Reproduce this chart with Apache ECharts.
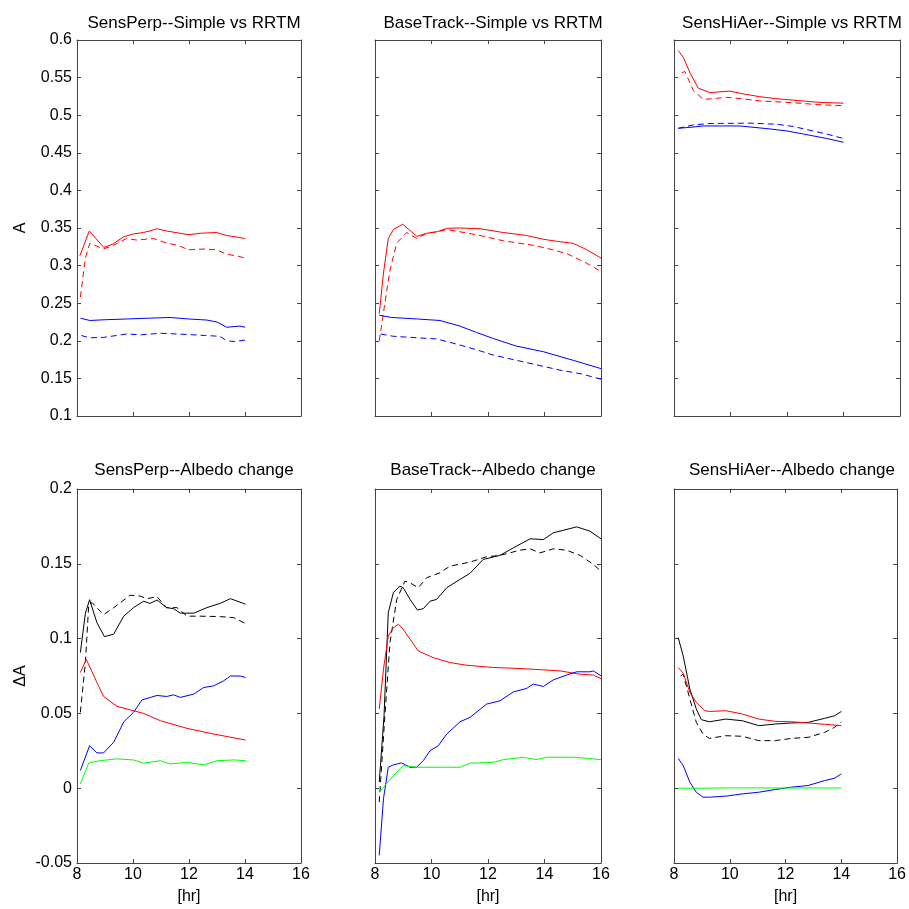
<!DOCTYPE html>
<html><head><meta charset="utf-8">
<script src="https://cdn.jsdelivr.net/npm/echarts/dist/echarts.min.js"></script>
<style>html,body{margin:0;padding:0;background:#fff}#c{width:909px;height:909px}</style>
</head><body><div id="c"></div><script>
// ---------- data ----------
const titles = ['SensPerp--Simple vs RRTM','BaseTrack--Simple vs RRTM','SensHiAer--Simple vs RRTM',
                'SensPerp--Albedo change','BaseTrack--Albedo change','SensHiAer--Albedo change'];
const xTicks = [8, 10, 12, 14, 16];
const yTicksTop = [0.1, 0.15, 0.2, 0.25, 0.3, 0.35, 0.4, 0.45, 0.5, 0.55, 0.6];
const yTicksBottom = [-0.05, 0, 0.05, 0.1, 0.15, 0.2];

// Top row: albedo A (solid = one model, dashed = other)
const perpRedSolid = [[8.1,0.313],[8.44,0.346],[8.96,0.324],[9.3,0.329],[9.65,0.338],[10.0,0.342],[10.37,0.344],[10.6,0.346],[10.85,0.349],[11.2,0.346],[11.68,0.343],[12.0,0.341],[12.4,0.343],[12.99,0.344],[13.35,0.340],[13.7,0.338],[14.0,0.336]];
const perpRedDash = [[8.12,0.258],[8.3,0.31],[8.46,0.330],[8.94,0.322],[9.3,0.327],[9.77,0.336],[10.13,0.334],[10.73,0.336],[11.2,0.330],[11.6,0.327],[11.98,0.321],[12.5,0.322],[12.99,0.321],[13.35,0.315],[13.7,0.313],[14.0,0.310]];
const perpBlueSolid = [[8.13,0.230],[8.46,0.227],[9.0,0.228],[9.77,0.229],[10.5,0.230],[11.32,0.231],[12.0,0.229],[12.63,0.2276],[13.0,0.225],[13.35,0.218],[13.82,0.2196],[14.0,0.218]];
const perpBlueDash = [[8.15,0.207],[8.46,0.204],[8.94,0.2045],[9.4,0.207],[9.77,0.209],[10.3,0.208],[10.96,0.210],[11.6,0.209],[12.15,0.208],[12.6,0.207],[13.1,0.206],[13.35,0.200],[13.64,0.199],[14.0,0.201]];

const baseRedSolid = [[8.15,0.236],[8.3,0.29],[8.47,0.336],[8.65,0.348],[8.98,0.355],[9.48,0.339],[9.83,0.343],[10.2,0.345],[10.54,0.3496],[11.0,0.350],[11.72,0.349],[12.54,0.344],[13.37,0.340],[13.96,0.335],[14.5,0.332],[15.02,0.3296],[15.5,0.321],[16.0,0.310]];
const baseRedDash = [[8.15,0.200],[8.35,0.250],[8.53,0.294],[8.77,0.330],[9.12,0.344],[9.48,0.336],[9.83,0.343],[10.2,0.345],[10.54,0.348],[11.0,0.345],[11.6,0.341],[12.54,0.333],[13.6,0.327],[14.08,0.323],[14.79,0.316],[15.5,0.303],[16.0,0.292]];
const baseBlueSolid = [[8.15,0.234],[8.59,0.231],[9.5,0.229],[10.3,0.227],[11.0,0.2196],[11.6,0.211],[12.19,0.203],[13.0,0.193],[13.96,0.1855],[15.02,0.174],[16.0,0.163]];
const baseBlueDash = [[8.2,0.209],[8.65,0.206],[9.5,0.204],[10.18,0.2025],[11.0,0.1945],[11.6,0.188],[12.19,0.181],[13.37,0.171],[14.55,0.161],[15.3,0.156],[16.0,0.149]];

const hiRedSolid = [[8.15,0.586],[8.33,0.577],[8.57,0.556],[8.86,0.536],[9.27,0.530],[9.6,0.531],[9.98,0.532],[10.5,0.528],[11.04,0.5246],[11.6,0.522],[12.22,0.520],[13.17,0.517],[14.0,0.516]];
const hiRedDash = [[8.27,0.5565],[8.39,0.558],[8.68,0.533],[9.04,0.521],[9.4,0.522],[9.86,0.5238],[10.4,0.522],[11.04,0.519],[12.22,0.5166],[13.1,0.514],[14.0,0.5126]];
const hiBlueSolid = [[8.15,0.4826],[8.6,0.484],[9.04,0.4857],[10.34,0.4857],[11.4,0.4817],[12.0,0.479],[12.58,0.475],[13.41,0.469],[14.0,0.464]];
const hiBlueDash = [[8.15,0.4826],[8.68,0.487],[9.27,0.489],[10.69,0.4894],[11.63,0.488],[12.22,0.485],[12.81,0.480],[13.4,0.475],[14.0,0.469]];

// Bottom row: albedo change dA
const perpBlackSolid = [[8.12,0.0907],[8.3,0.117],[8.45,0.126],[8.71,0.1107],[8.98,0.1013],[9.31,0.103],[9.67,0.115],[10.02,0.1207],[10.38,0.125],[10.6,0.1235],[10.86,0.1258],[11.2,0.1207],[11.45,0.120],[11.69,0.117],[12.17,0.117],[12.64,0.1207],[13.12,0.1236],[13.48,0.1267],[14.02,0.123]];
const perpBlackDash = [[8.12,0.0507],[8.18,0.0507],[8.3,0.084],[8.42,0.123],[8.54,0.124],[8.95,0.116],[9.31,0.1207],[9.9,0.129],[10.26,0.1284],[10.5,0.1267],[10.86,0.128],[11.2,0.1207],[11.57,0.1207],[11.93,0.115],[12.4,0.115],[13.12,0.1147],[13.6,0.114],[14.02,0.110]];
const perpRed = [[8.12,0.0773],[8.33,0.0862],[8.71,0.0707],[8.95,0.0613],[9.43,0.0547],[10.02,0.0518],[10.38,0.050],[10.98,0.0451],[11.93,0.040],[12.88,0.0362],[14.02,0.0322]];
const perpBlue = [[8.12,0.0118],[8.45,0.0284],[8.71,0.0236],[8.95,0.0236],[9.31,0.0307],[9.67,0.0444],[10.02,0.0507],[10.32,0.059],[10.62,0.0607],[10.86,0.062],[11.2,0.0613],[11.45,0.0624],[11.69,0.0607],[12.17,0.0629],[12.52,0.0673],[12.88,0.0684],[13.24,0.0718],[13.48,0.075],[13.83,0.075],[14.02,0.074]];
const perpGreen = [[8.12,0.0029],[8.42,0.0169],[8.83,0.0184],[9.43,0.0196],[10.02,0.0189],[10.38,0.0167],[10.98,0.0184],[11.33,0.0162],[11.93,0.0173],[12.52,0.0156],[13.0,0.0184],[13.6,0.0189],[14.02,0.0184]];

const baseBlackSolid = [[8.15,0.004],[8.32,0.0484],[8.47,0.1173],[8.65,0.1307],[8.88,0.1351],[9.0,0.134],[9.24,0.1262],[9.5,0.1191],[9.71,0.120],[9.95,0.125],[10.18,0.1262],[10.54,0.134],[11.01,0.1396],[11.36,0.1436],[11.83,0.1529],[12.42,0.1556],[12.9,0.1607],[13.49,0.1667],[13.96,0.1662],[14.31,0.1707],[15.14,0.1747],[15.61,0.1718],[16.0,0.1667]];
const baseBlackDash = [[8.15,-0.0093],[8.35,0.0484],[8.53,0.0973],[8.77,0.1262],[9.06,0.1384],[9.24,0.1373],[9.53,0.134],[9.83,0.1407],[10.3,0.144],[10.65,0.1484],[11.36,0.1511],[11.95,0.1547],[12.42,0.1556],[13.13,0.1591],[13.49,0.160],[13.84,0.1573],[14.31,0.160],[14.78,0.1591],[15.26,0.1556],[15.73,0.1496],[16.0,0.1451]];
const baseRed = [[8.15,0.0529],[8.3,0.0796],[8.47,0.1018],[8.65,0.1073],[8.83,0.1096],[9.0,0.1062],[9.24,0.0996],[9.53,0.0918],[10.06,0.0873],[10.65,0.084],[11.24,0.0822],[12.19,0.0807],[13.13,0.080],[13.96,0.0791],[14.55,0.0784],[15.26,0.0762],[15.73,0.0756],[16.0,0.0733]];
const baseBlue = [[8.15,-0.0449],[8.3,-0.0071],[8.47,0.014],[8.65,0.0156],[8.94,0.0169],[9.24,0.014],[9.47,0.014],[9.71,0.0184],[9.95,0.0251],[10.24,0.0284],[10.54,0.0362],[11.01,0.0444],[11.36,0.0473],[11.95,0.0562],[12.42,0.0584],[12.9,0.0644],[13.37,0.0667],[13.6,0.0696],[13.96,0.068],[14.31,0.0724],[14.78,0.0756],[15.14,0.0778],[15.61,0.0778],[15.73,0.0784],[16.0,0.0751]];
const baseGreen = [[8.15,-0.0027],[8.35,0.0018],[8.65,0.0084],[9.0,0.0151],[9.47,0.014],[10.42,0.014],[11.01,0.014],[11.36,0.0167],[12.19,0.0173],[12.54,0.0191],[13.25,0.0207],[13.72,0.0191],[14.08,0.0207],[15.02,0.0207],[15.49,0.020],[16.0,0.0191]];

const hiBlackSolid = [[8.15,0.1007],[8.33,0.0884],[8.57,0.0662],[8.8,0.0529],[8.98,0.0458],[9.27,0.0444],[9.86,0.0462],[10.45,0.0451],[11.04,0.0418],[11.63,0.0429],[12.22,0.0436],[12.81,0.044],[13.4,0.0467],[13.76,0.0484],[14.0,0.0513]];
const hiBlackDash = [[8.24,0.0751],[8.33,0.0762],[8.57,0.0596],[8.8,0.044],[9.04,0.0362],[9.27,0.0333],[9.86,0.0351],[10.45,0.0347],[11.04,0.0318],[11.63,0.0318],[12.22,0.0333],[12.81,0.034],[13.4,0.0373],[13.76,0.0407],[14.0,0.0444]];
const hiRed = [[8.15,0.0807],[8.33,0.0769],[8.57,0.064],[8.8,0.0573],[9.1,0.0518],[9.27,0.0513],[9.86,0.0518],[10.45,0.0496],[11.04,0.0462],[11.63,0.0447],[12.22,0.0444],[12.81,0.0436],[13.4,0.0427],[14.0,0.0418]];
const hiBlue = [[8.15,0.020],[8.33,0.0151],[8.57,0.004],[8.8,-0.0027],[9.04,-0.006],[9.27,-0.006],[9.86,-0.0053],[10.45,-0.0038],[11.04,-0.0027],[11.63,-0.0009],[12.22,0.0007],[12.81,0.0018],[13.4,0.0051],[13.76,0.0067],[14.0,0.0096]];
const hiGreen = [[8.15,0.0],[9.0,0.0],[10.0,0.0002],[11.0,0.0002],[12.0,0.0001],[13.0,0.0002],[14.0,0.0001]];

// ---------- layout ----------
const lefts = [77, 375, 674];
const widths = [224, 226, 226];
const tops = [40, 489];
const heights = [376, 374];
const FONT = 'Liberation Sans, Arial, Helvetica, sans-serif';
const AX = '#444';

const grids = [], xAxes = [], yAxes = [], series = [], titleArr = [];
const fmt = v => String(+v.toFixed(2));

for (let r = 0; r < 2; r++) {
  for (let c = 0; c < 3; c++) {
    const i = r * 3 + c;
    grids.push({left: lefts[c], top: tops[r], width: widths[c], height: heights[r], show: false});
    const yT = r === 0 ? yTicksTop : yTicksBottom;
    const xBase = {type: 'value', gridIndex: i, min: xTicks[0], max: xTicks[xTicks.length-1], interval: 2,
      axisLine: {show: true, onZero: false, lineStyle: {color: AX, width: 1}},
      axisTick: {show: true, inside: true, length: 4, lineStyle: {color: AX}},
      splitLine: {show: false}};
    xAxes.push(Object.assign({}, xBase, {position: 'bottom',
      axisLabel: {show: r === 1, color: '#000', fontFamily: FONT, fontSize: 16, margin: 4},
      name: r === 1 ? '[hr]' : '', nameLocation: 'middle', nameGap: 26,
      nameTextStyle: {color: '#000', fontFamily: FONT, fontSize: 16}}));
    xAxes.push(Object.assign({}, xBase, {position: 'top', axisLabel: {show: false}}));
    const yBase = {type: 'value', gridIndex: i, min: yT[0], max: yT[yT.length-1], interval: 0.05,
      axisLine: {show: true, onZero: false, lineStyle: {color: AX, width: 1}},
      axisTick: {show: true, inside: true, length: 4, lineStyle: {color: AX}},
      splitLine: {show: false}};
    yAxes.push(Object.assign({}, yBase, {position: 'left',
      axisLabel: {show: c === 0, color: '#000', fontFamily: FONT, fontSize: 16, margin: 5, formatter: fmt},
      name: c === 0 ? (r === 0 ? 'A' : '\u0394A') : '', nameLocation: 'middle', nameGap: 48,
      nameTextStyle: {color: '#000', fontFamily: FONT, fontSize: 16}}));
    yAxes.push(Object.assign({}, yBase, {position: 'right', axisLabel: {show: false}}));
    titleArr.push({text: titles[i], left: lefts[c] + widths[c] / 2, top: r === 0 ? 10 : 457, textAlign: 'center',
      textStyle: {fontFamily: FONT, fontSize: 17, fontWeight: 'normal', color: '#000'}});
  }
}

function addLine(panel, data, color, dashed) {
  series.push({type: 'line', xAxisIndex: panel * 2, yAxisIndex: panel * 2, data: data,
    showSymbol: false, symbol: 'none', smooth: false, silent: true,
    lineStyle: {color: color, width: 1, type: dashed ? [6, 4] : 'solid'}});
}
const RED = '#ff0000', BLUE = '#0000ff', GREEN = '#00ff00', BLACK = '#000000';
addLine(0, perpRedSolid, RED, false); addLine(0, perpRedDash, RED, true);
addLine(0, perpBlueSolid, BLUE, false); addLine(0, perpBlueDash, BLUE, true);
addLine(1, baseRedSolid, RED, false); addLine(1, baseRedDash, RED, true);
addLine(1, baseBlueSolid, BLUE, false); addLine(1, baseBlueDash, BLUE, true);
addLine(2, hiRedSolid, RED, false); addLine(2, hiRedDash, RED, true);
addLine(2, hiBlueSolid, BLUE, false); addLine(2, hiBlueDash, BLUE, true);
addLine(3, perpBlackSolid, BLACK, false); addLine(3, perpBlackDash, BLACK, true);
addLine(3, perpRed, RED, false); addLine(3, perpBlue, BLUE, false); addLine(3, perpGreen, GREEN, false);
addLine(4, baseBlackSolid, BLACK, false); addLine(4, baseBlackDash, BLACK, true);
addLine(4, baseRed, RED, false); addLine(4, baseBlue, BLUE, false); addLine(4, baseGreen, GREEN, false);
addLine(5, hiBlackSolid, BLACK, false); addLine(5, hiBlackDash, BLACK, true);
addLine(5, hiRed, RED, false); addLine(5, hiBlue, BLUE, false); addLine(5, hiGreen, GREEN, false);

const chart = echarts.init(document.getElementById('c'), null, {renderer: 'canvas'});
chart.setOption({animation: false, backgroundColor: '#fff', title: titleArr, grid: grids,
  xAxis: xAxes, yAxis: yAxes, series: series});
</script></body></html>
